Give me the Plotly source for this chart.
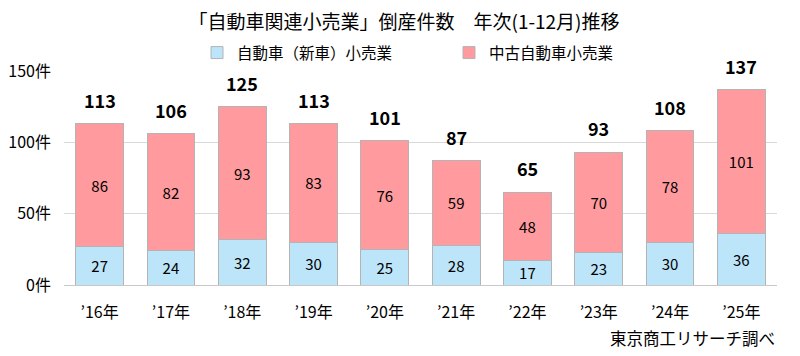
import plotly.graph_objects as go

years = ["’16年", "’17年", "’18年", "’19年", "’20年", "’21年", "’22年", "’23年", "’24年", "’25年"]
new_car = [27, 24, 32, 30, 25, 28, 17, 23, 30, 36]
used_car = [86, 82, 93, 83, 76, 59, 48, 70, 78, 101]
totals = [113, 106, 125, 113, 101, 87, 65, 93, 108, 137]
y_tickvals = [0, 50, 100, 150]
y_ticktext = ["0件", "50件", "100件", "150件"]

FONT = "Noto Sans CJK JP"
BLUE = "#bde5f9"
PINK = "#ff9b9e"
W, H = 792, 348  # page body has an 8px margin

fig = go.Figure()
fig.add_trace(go.Bar(
    x=years, y=new_car, name="自動車（新車）小売業",
    marker=dict(color=BLUE, line=dict(color="#b4b4b4", width=1)),
    text=[str(v) for v in new_car], textposition="inside", insidetextanchor="middle",
    textangle=0, textfont=dict(size=15, color="#000000", family=FONT),
))
fig.add_trace(go.Bar(
    x=years, y=used_car, name="中古自動車小売業",
    marker=dict(color=PINK, line=dict(color="#b4b4b4", width=1)),
    text=[str(v) for v in used_car], textposition="inside", insidetextanchor="middle",
    textangle=0, textfont=dict(size=15, color="#000000", family=FONT),
))

for x, t in zip(years, totals):
    fig.add_annotation(x=x, y=t, text=f"<b>{t}</b>", showarrow=False,
                       yanchor="bottom", yshift=9,
                       font=dict(size=18, color="#000000", family=FONT))

fig.add_annotation(xref="paper", yref="paper", x=1.0, y=-0.18, xanchor="right", yanchor="top",
                   text="東京商工リサーチ調べ", showarrow=False,
                   font=dict(size=16.5, color="#000000", family=FONT))

fig.update_layout(
    width=W, height=H,
    barmode="stack", bargap=0.33,
    paper_bgcolor="white", plot_bgcolor="white",
    font=dict(family=FONT, color="#000000", size=15),
    uniformtext=dict(minsize=15, mode="show"),
    title=dict(text="「自動車関連小売業」倒産件数　年次(1-12月)推移", x=0.5, xanchor="center",
               yref="container", y=1 - 14 / H, yanchor="middle",
               font=dict(size=19, family=FONT, color="#000000")),
    legend=dict(orientation="h", xref="container", x=189 / W, xanchor="left", yref="container",
                y=1 - 45 / H, yanchor="middle", traceorder="normal",
                font=dict(size=15.5, family=FONT), entrywidth=207, entrywidthmode="pixels",
                itemwidth=30),
    margin=dict(l=56, r=23, t=63, b=71, autoexpand=False),
    showlegend=True,
)
fig.update_xaxes(showline=True, linecolor="#c8c8c8", linewidth=1, ticks="",
                 tickfont=dict(size=16, family=FONT), showgrid=False, ticklabelstandoff=13)
fig.update_yaxes(range=[0, 150], tickvals=y_tickvals, ticktext=y_ticktext,
                 showgrid=True, gridcolor="#d9d9d9", gridwidth=1, zeroline=False,
                 showline=False, tickfont=dict(size=16, family=FONT), ticklabelstandoff=12)

fig.write_html("out.html")
